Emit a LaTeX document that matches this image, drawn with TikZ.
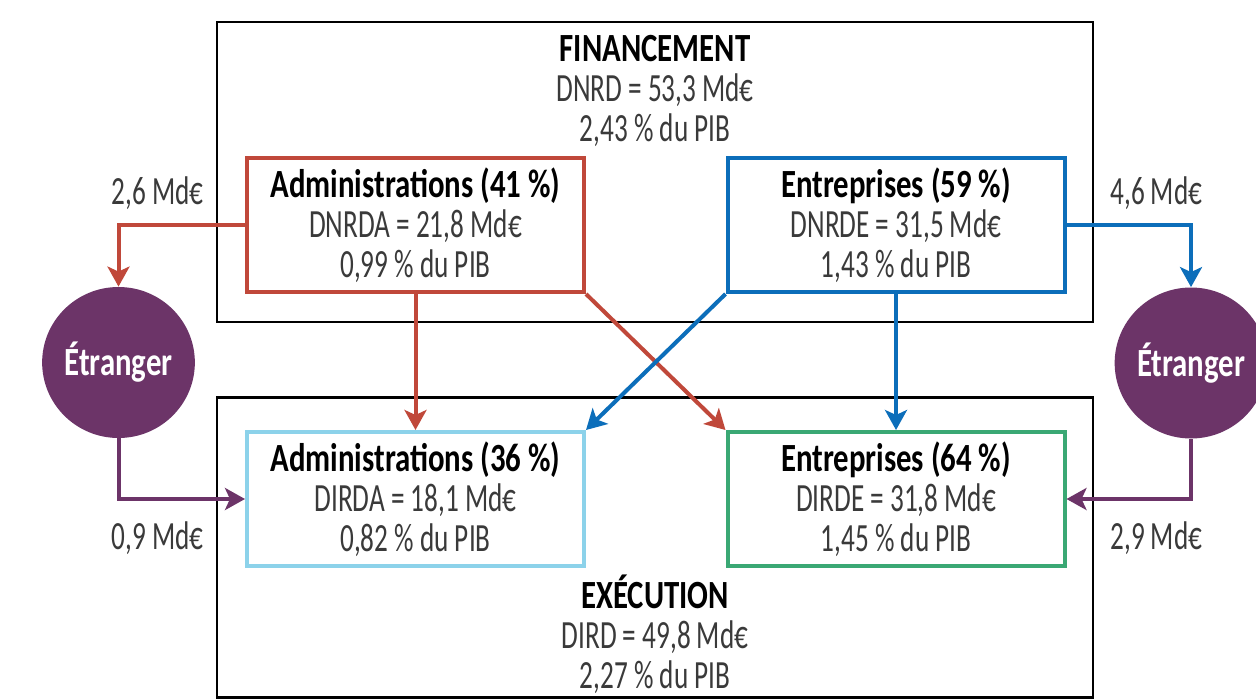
\documentclass[tikz,border=0pt]{standalone}
\usepackage{fontspec}
\setmainfont{Carlito}
\newfontfamily\bodyfont[FakeStretch=0.68]{Carlito}
\newfontfamily\headfont[FakeStretch=0.77]{Carlito}
\usetikzlibrary{shapes.geometric,arrows.meta}
\definecolor{finred}{RGB}{192,72,58}
\definecolor{finblue}{RGB}{12,110,186}
\definecolor{exeblue}{RGB}{140,210,234}
\definecolor{exegreen}{RGB}{58,168,116}
\definecolor{abroad}{RGB}{108,52,104}
\definecolor{txtgray}{RGB}{58,58,58}
\newcommand{\hd}[1]{{\headfont\bfseries\color{black}#1}}
\tikzset{
  frame/.style={draw=black, line width=1.3pt, minimum width=438pt,
    minimum height=150pt, inner sep=0pt},
  sector/.style={draw, line width=2pt, minimum width=168.5pt,
    minimum height=67pt, inner sep=0pt, align=center, text=txtgray,
    font=\bodyfont\fontsize{20}{20}\selectfont},
  title/.style={align=center, text=txtgray, inner sep=0pt,
    font=\bodyfont\fontsize{20}{20}\selectfont},
  amount/.style={text=txtgray, inner sep=0pt,
    font=\bodyfont\fontsize{20}{20}\selectfont},
  abroadnode/.style={ellipse, fill=abroad, minimum width=65.5pt,
    minimum height=75.5pt, inner sep=0pt, text=white,
    font=\headfont\bfseries\fontsize{20}{20}\selectfont},
  flow/.style={line width=2pt, -{Stealth[length=10pt,width=11pt,inset=2.5pt]}}
}
\begin{document}
\begin{tikzpicture}[x=0.5pt,y=-0.5pt]
  \useasboundingbox[fill=white] (0,0) rectangle (1256,700);
  % frames
  \node[frame] (fin) at (655,172) {};
  \node[frame] (exe) at (655,547.5) {};
  \node[title] (fintitle) at (655,91)
    {\hd{FINANCEMENT}\\DNRD = 53,3 Md€\\2,43~\% du PIB};
  \node[title] (exetitle) at (655,634)
    {\hd{EXÉCUTION}\\DIRD = 49,8 Md€\\2,27~\% du PIB};
  % sectors
  \node[sector, draw=finred] (fadm) at (415.5,225)
    {\hd{Administrations (41~\%)}\\DNRDA = 21,8 Md€\\0,99~\% du PIB};
  \node[sector, draw=finblue] (fent) at (896,225)
    {\hd{Entreprises (59~\%)}\\DNRDE = 31,5 Md€\\1,43~\% du PIB};
  \node[sector, draw=exeblue] (eadm) at (415.5,499)
    {\hd{Administrations (36~\%)}\\DIRDA = 18,1 Md€\\0,82~\% du PIB};
  \node[sector, draw=exegreen] (eent) at (896,499)
    {\hd{Entreprises (64~\%)}\\DIRDE = 31,8 Md€\\1,45~\% du PIB};
  % abroad
  \node[abroadnode] (abl) at (118.5,362.5) {Étranger};
  \node[abroadnode] (abr) at (1191,363) {Étranger};
  % amounts
  \node[amount, anchor=east] (a26) at (204,193) {2,6 Md€};
  \node[amount, anchor=west] (a46) at (1110,193) {4,6 Md€};
  \node[amount, anchor=east] (a09) at (204,538) {0,9 Md€};
  \node[amount, anchor=west] (a29) at (1110,538) {2,9 Md€};
  % flows
  \begin{scope}[flow]
    \draw[finred] (fadm.west) -| (abl.north);
    \draw[finblue] (fent.east) -| (abr.north);
    \draw[abroad] (abl.south) |- (eadm.west);
    \draw[abroad] (abr.south) |- (eent.east);
    \draw[finred] (fadm.south) -- (eadm.north);
    \draw[finred] (fadm.south east) -- (eent.north west);
    \draw[finblue] (fent.south west) -- (eadm.north east);
    \draw[finblue] (fent.south) -- (eent.north);
  \end{scope}
\end{tikzpicture}
\end{document}
